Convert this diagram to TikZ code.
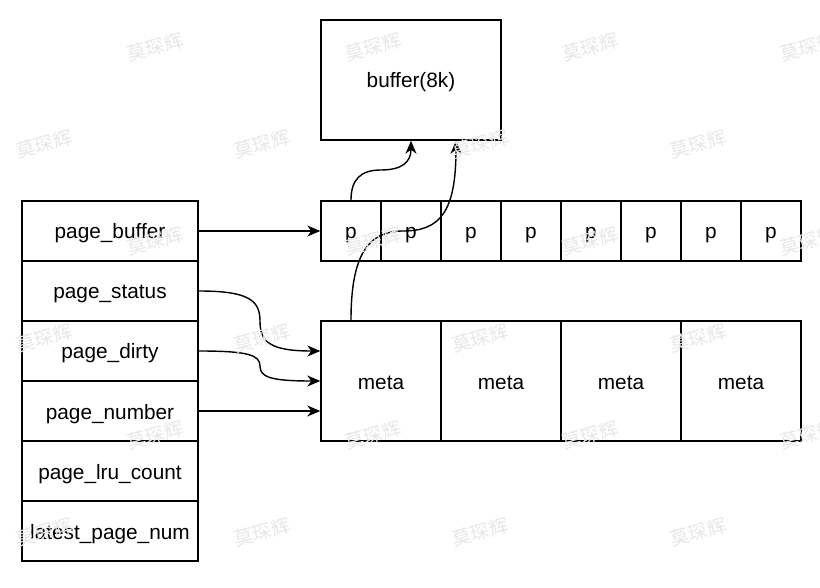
\documentclass[tikz,border=0pt]{standalone}
\usepackage{fontspec}
\setmainfont{Liberation Sans}
\newfontfamily\cjk{Noto Sans CJK SC}
\usetikzlibrary{arrows.meta}
\begin{document}
\begin{tikzpicture}[x=1pt,y=-1pt,
  cell/.style={draw=black, line width=1.4pt, fill=white, inner sep=0pt,
    text height=16pt, text depth=0pt,
    font=\fontsize{20.8}{24}\selectfont, text=black},
  arr/.style={line width=1.4pt, -{Stealth[length=13pt,width=11pt,inset=4pt]}},
  wm/.style={font=\cjk\fontsize{19}{19}\selectfont, text=black!9, rotate=15}]
\useasboundingbox[fill=white] (0,0) rectangle (820,588);
% buffer
\node[cell, minimum width=180pt, minimum height=120pt] (buf) at (411,80) {buffer(8k)};
% p row
\foreach \i in {0,...,7}
  \node[cell, minimum width=60pt, minimum height=60pt] (p\i) at (351+60*\i,231) {p};
% meta row
\foreach \i in {0,...,3}
  \node[cell, minimum width=120pt, minimum height=120pt] (m\i) at (381+120*\i,381) {meta};
% left column
\node[cell, minimum width=176pt, minimum height=60pt] (pb) at (110,231) {page\_buffer};
\node[cell, minimum width=176pt, minimum height=60pt] (ps) at (110,291) {page\_status};
\node[cell, minimum width=176pt, minimum height=60pt] (pd) at (110,351) {page\_dirty};
\node[cell, minimum width=176pt, minimum height=60pt] (pn) at (110,411) {page\_number};
\node[cell, minimum width=176pt, minimum height=60pt] (pl) at (110,471) {page\_lru\_count};
\node[cell, minimum width=176pt, minimum height=60pt] (pln) at (110,531) {latest\_page\_num};
% connectors
\draw[arr] (pb.east) -- (p0.west);
\draw[arr] (ps.east) .. controls (248,291) and (260,300) .. (260,321)
  .. controls (260,342) and (270,351) .. ([yshift=30pt]m0.west);
\draw[arr] (pd.east) .. controls (248,351) and (260,355) .. (260,366)
  .. controls (260,377) and (270,381) .. (m0.west);
\draw[arr] (pn.east) -- ([yshift=-30pt]m0.west);
\draw[arr] (p0.north) .. controls (351,180) and (360,170) .. (381,170)
  .. controls (402,170) and (411,162) .. (buf.south);
\draw[arr] ([xshift=-30pt]m0.north) .. controls (351,255) and (368,231) .. (403,231)
  .. controls (440,231) and (456,212) .. ([xshift=45pt]buf.south);
% watermarks
\foreach \y in {47,241,435}
  \foreach \x in {155,373,590,808}
    \node[wm] at (\x,\y) {莫琛辉};
\foreach \y in {144,338,532}
  \foreach \x in {44,262,480,698}
    \node[wm] at (\x,\y) {莫琛辉};
\end{tikzpicture}
\end{document}
